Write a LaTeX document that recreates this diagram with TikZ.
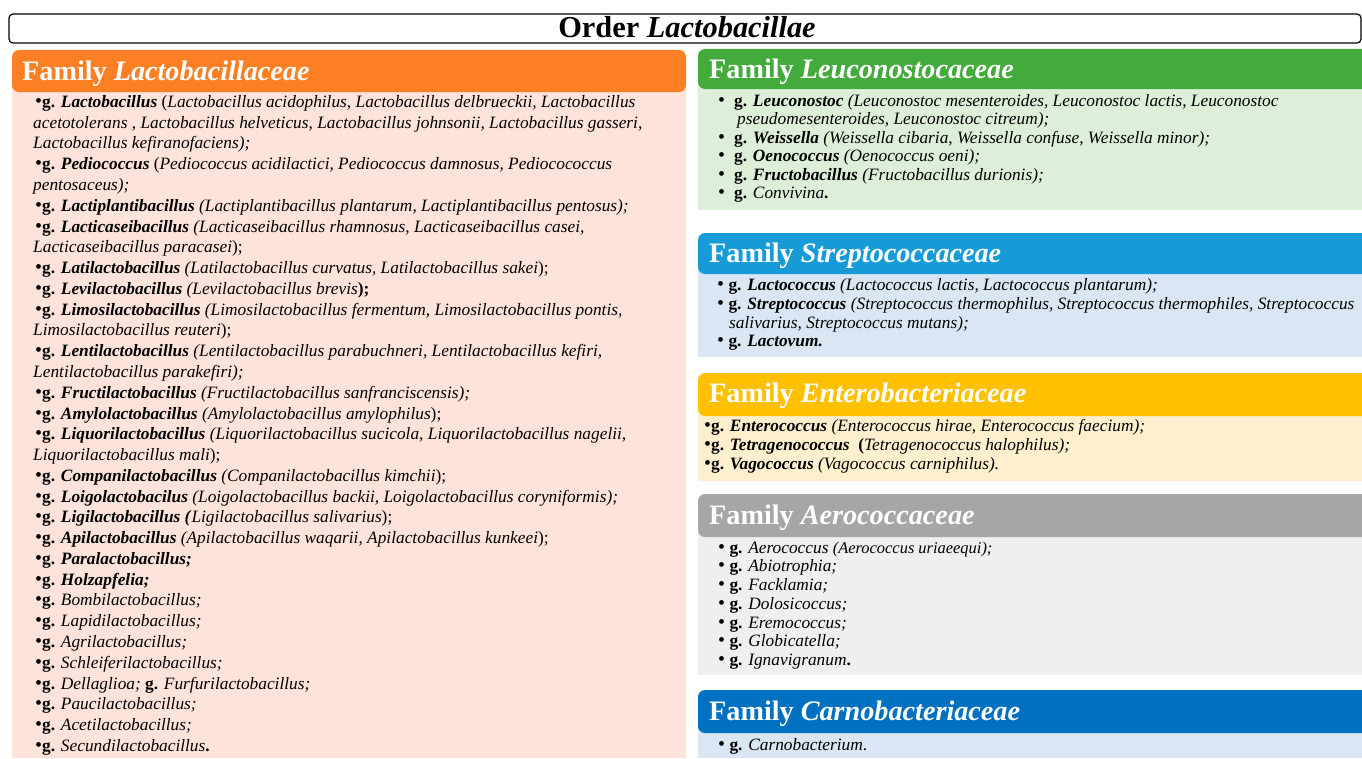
\documentclass[tikz,border=0pt]{standalone}
\usepackage{fontspec}
\setmainfont{Liberation Serif}
\usepackage{graphicx}
\definecolor{orangeH}{HTML}{FD7F23}
\definecolor{orangeB}{HTML}{FDE3D9}
\definecolor{greenH}{HTML}{42AB3B}
\definecolor{greenB}{HTML}{DEEFD9}
\definecolor{blueH}{HTML}{179BD7}
\definecolor{blueB}{HTML}{DAE6F3}
\definecolor{goldH}{HTML}{FFC000}
\definecolor{goldB}{HTML}{FEF0CE}
\definecolor{greyH}{HTML}{A6A6A6}
\definecolor{greyB}{HTML}{EFEFEF}
\definecolor{navyH}{HTML}{0070C0}
\definecolor{navyB}{HTML}{DAE6F3}
\newcommand{\gb}[1]{\textbf{g. \textit{#1}}}
\newcommand{\gr}[1]{\textbf{g.} \textit{#1}}
\newcommand{\bul}{{\fontsize{20}{20}\selectfont\textbullet}}
\tikzset{
  fam/.style={anchor=base west, text=white, inner sep=0pt, font=\fontsize{28.3}{30}\selectfont\bfseries},
  ln/.style={anchor=base west, inner sep=0pt, font=\fontsize{17.4}{20}\selectfont},
  rn/.style={anchor=base west, inner sep=0pt, font=\fontsize{17.4}{19}\selectfont},
  hdr/.style={rounded corners=7bp},
}
\begin{document}
\begin{tikzpicture}[x=1bp,y=-1bp]
\useasboundingbox (0,0) rectangle (1362,758);
\fill[white] (0,0) rectangle (1362,758);
% title
\draw[line width=1.2bp, rounded corners=4bp] (9,14) rectangle (1361,43);
\node[anchor=base, inner sep=0pt, font=\fontsize{30.5}{32}\selectfont\bfseries] (title) at (687,38) {Order \textit{Lactobacillae}};
% left family
\fill[orangeB] (12,80) rectangle (686,758);
\fill[orangeH, hdr] (12,50) rectangle (686,92);
\node[fam] (lacto) at (22,80) {Family \textit{Lactobacillaceae}};
\node[ln] (L1) at (35,107) {\bul\gb{Lactobacillus} (\textit{Lactobacillus acidophilus, Lactobacillus delbrueckii, Lactobacillus}};
\node[ln] (L2) at (33,128) {\textit{acetotolerans ,\ Lactobacillus helveticus, Lactobacillus johnsonii, Lactobacillus gasseri,}};
\node[ln] (L3) at (33,148) {\textit{Lactobacillus kefiranofaciens);}};
\node[ln] (L4) at (35,169) {\bul\gb{Pediococcus} (\textit{Pediococcus acidilactici,\ Pediococcus damnosus, Pediocococcus}};
\node[ln] (L5) at (33,190) {\textit{pentosaceus);}};
\node[ln] (L6) at (35,211) {\bul\gb{Lactiplantibacillus} \textit{(Lactiplantibacillus plantarum, Lactiplantibacillus pentosus);}};
\node[ln] (L7) at (35,232) {\bul\gb{Lacticaseibacillus} \textit{(Lacticaseibacillus rhamnosus, Lacticaseibacillus casei,}};
\node[ln] (L8) at (33,252) {\textit{Lacticaseibacillus paracasei});};
\node[ln] (L9) at (35,273) {\bul\gb{Latilactobacillus} \textit{(Latilactobacillus curvatus, Latilactobacillus sakei});};
\node[ln] (L10) at (35,294) {\bul\gb{Levilactobacillus} \textit{(Levilactobacillus brevis}\textbf{);}};
\node[ln] (L11) at (35,315) {\bul\gb{Limosilactobacillus} \textit{(Limosilactobacillus fermentum}, \textit{Limosilactobacillus pontis,}};
\node[ln] (L12) at (33,335) {\textit{Limosilactobacillus reuteri});};
\node[ln] (L13) at (35,356) {\bul\gb{Lentilactobacillus} \textit{(Lentilactobacillus parabuchneri, Lentilactobacillus kefiri,}};
\node[ln] (L14) at (33,377) {\textit{Lentilactobacillus parakefiri);}};
\node[ln] (L15) at (35,398) {\bul\gb{Fructilactobacillus} \textit{(Fructilactobacillus sanfranciscensis);}};
\node[ln] (L16) at (35,419) {\bul\gb{Amylolactobacillus} \textit{(Amylolactobacillus amylophilus});};
\node[ln] (L17) at (35,439) {\bul\gb{Liquorilactobacillus} \textit{(Liquorilactobacillus sucicola}, \textit{Liquorilactobacillus nagelii,}};
\node[ln] (L18) at (33,460) {\textit{Liquorilactobacillus mali});};
\node[ln] (L19) at (35,481) {\bul\gb{Companilactobacillus} \textit{(Companilactobacillus kimchii});};
\node[ln] (L20) at (35,502) {\bul\gb{Loigolactobacilus} \textit{(Loigolactobacillus backii, Loigolactobacillus coryniformis);}};
\node[ln] (L21) at (35,522) {\bul\gb{Ligilactobacillus (}\textit{Ligilactobacillus salivarius});};
\node[ln] (L22) at (35,543) {\bul\gb{Apilactobacillus} \textit{(Apilactobacillus waqarii, Apilactobacillus kunkeei});};
\node[ln] (L23) at (35,564) {\bul\gb{Paralactobacillus;}};
\node[ln] (L24) at (35,585) {\bul\gb{Holzapfelia;}};
\node[ln] (L25) at (35,605) {\bul\gr{Bombilactobacillus;}};
\node[ln] (L26) at (35,626) {\bul\gr{Lapidilactobacillus;}};
\node[ln] (L27) at (35,647) {\bul\gr{Agrilactobacillus;}};
\node[ln] (L28) at (35,668) {\bul\gr{Schleiferilactobacillus;}};
\node[ln] (L29) at (35,689) {\bul\gr{Dellaglioa;} \gr{Furfurilactobacillus;}};
\node[ln] (L30) at (35,709) {\bul\gr{Paucilactobacillus;}};
\node[ln] (L31) at (35,730) {\bul\gr{Acetilactobacillus;}};
\node[ln] (L32) at (35,751) {\bul\gr{Secundilactobacillus}\textbf{.}};
% Leuconostocaceae
\fill[greenB] (698,80) rectangle (1362,210);
\fill[greenH, hdr] (698,49) rectangle (1375,89);
\node[fam] (leuco) at (709,78) {Family \textit{Leuconostocaceae}};
\node[rn] (G1) at (718,106) {\bul\hspace{9bp}\gb{Leuconostoc} \textit{(Leuconostoc mesenteroides, Leuconostoc lactis, Leuconostoc}};
\node[rn] (G2) at (737,124) {\textit{pseudomesenteroides, Leuconostoc citreum);}};
\node[rn] (G3) at (718,143) {\bul\hspace{9bp}\gb{Weissella} \textit{(Weissella cibaria, Weissella confuse, Weissella minor);}};
\node[rn] (G4) at (718,161) {\bul\hspace{9bp}\gb{Oenococcus} \textit{(Oenococcus oeni);}};
\node[rn] (G5) at (718,180) {\bul\hspace{9bp}\gb{Fructobacillus} \textit{(Fructobacillus durionis);}};
\node[rn] (G6) at (718,198) {\bul\hspace{9bp}\gr{Convivina}\textbf{.}};
% Streptococcaceae
\fill[blueB] (698,260) rectangle (1362,357);
\fill[blueH, hdr] (698,233) rectangle (1375,274);
\node[fam] (strep) at (709,262) {Family \textit{Streptococcaceae}};
\node[rn] (B1) at (717,290) {\bul\ \gb{Lactococcus} \textit{(Lactococcus lactis, Lactococcus plantarum);}};
\node[rn] (B2) at (717,309) {\bul\ \gb{Streptococcus} \textit{(Streptococcus thermophilus, Streptococcus thermophiles, Streptococcus}};
\node[rn] (B3) at (729,328) {\textit{salivarius, Streptococcus mutans);}};
\node[rn] (B4) at (717,346) {\bul\ \gb{Lactovum.}};
% Enterobacteriaceae
\fill[goldB] (698,400) rectangle (1362,481);
\fill[goldH, hdr] (698,373) rectangle (1375,416);
\node[fam] (entero) at (709,402) {Family \textit{Enterobacteriaceae}};
\node[rn] (E1) at (704,431) {\bul\gb{Enterococcus} \textit{(Enterococcus hirae, Enterococcus faecium);}};
\node[rn] (E2) at (704,450) {\bul\gb{Tetragenococcus}\ \ \textbf{(}\textit{Tetragenococcus halophilus);}};
\node[rn] (E3) at (704,469) {\bul\gb{Vagococcus} \textit{(Vagococcus carniphilus).}};
% Aerococcaceae
\fill[greyB] (698,520) rectangle (1362,675);
\fill[greyH, hdr] (698,494) rectangle (1375,537);
\node[fam] (aero) at (709,524) {Family \textit{Aerococcaceae}};
\node[rn] (A1) at (718,553) {\bul\ \gr{Aerococcus} {\fontsize{16.5}{17}\selectfont\textit{(Aerococcus uriaeequi);}}};
\node[rn] (A2) at (718,571) {\bul\ \gr{Abiotrophia;}};
\node[rn] (A3) at (718,590) {\bul\ \gr{Facklamia;}};
\node[rn] (A4) at (718,609) {\bul\ \gr{Dolosicoccus;}};
\node[rn] (A5) at (718,628) {\bul\ \gr{Eremococcus;}};
\node[rn] (A6) at (718,646) {\bul\ \gr{Globicatella;}};
\node[rn] (A7) at (718,665) {\bul\ \gr{Ignavigranum}\textbf{.}};
% Carnobacteriaceae
\fill[navyB] (698,715) rectangle (1362,758);
\fill[navyH, hdr] (698,690) rectangle (1375,733);
\node[fam] (carno) at (709,720) {Family \textit{Carnobacteriaceae}};
\node[rn] (C1) at (718,750) {\bul\ \gr{Carnobacterium}.};
\end{tikzpicture}
\end{document}
